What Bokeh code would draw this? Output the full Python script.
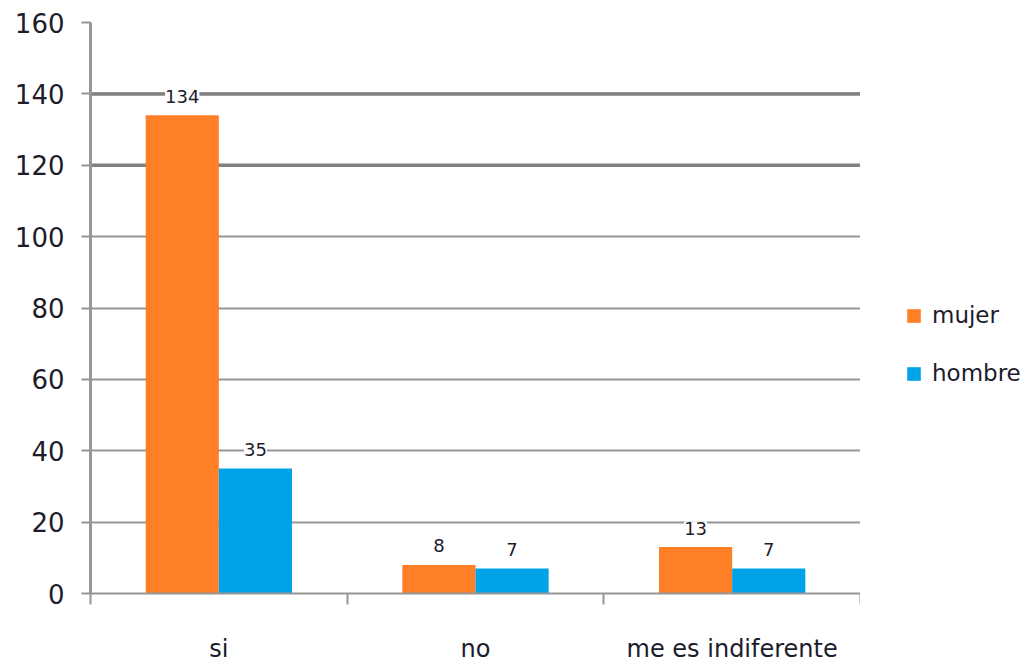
from bokeh.plotting import figure
from bokeh.layouts import row
from bokeh.models import (ColumnDataSource, FixedTicker, Range1d, LabelSet, Legend,
                          LegendItem, Span)
from bokeh.core.properties import value
from bokeh.embed import file_html
from bokeh.resources import INLINE

categories = ["si", "no", "me es indiferente"]
series_names = ["mujer", "hombre"]
mujer = [134, 8, 13]
hombre = [35, 7, 7]
y_ticks = [0, 20, 40, 60, 80, 100, 120, 140, 160]

ORANGE = "#FF7F27"
BLUE = "#00A2E8"
GRID = "#969696"
FONT = "DejaVu Sans"
TXT = "#1c1c2c"

n = len(categories)
centers = [i + 0.5 for i in range(n)]
bw = 0.285

p = figure(width=860, height=665, output_backend="svg", toolbar_location=None,
           x_range=Range1d(0, n), y_range=Range1d(0, 160),
           min_border_left=90, min_border_right=0, min_border_top=22,
           min_border_bottom=72)
p.outline_line_color = None
p.background_fill_color = "white"
p.border_fill_color = "white"

src_m = ColumnDataSource(dict(x=[c - bw / 2 for c in centers], top=mujer,
                              lab=[str(v) for v in mujer]))
src_h = ColumnDataSource(dict(x=[c + bw / 2 for c in centers], top=hombre,
                              lab=[str(v) for v in hombre]))

# grid
p.xgrid.grid_line_color = None
p.ygrid.ticker = FixedTicker(ticks=y_ticks)
p.ygrid.grid_line_color = GRID
p.ygrid.grid_line_width = 2
for v in [120, 140]:
    p.add_layout(Span(location=v, dimension="width", line_color="#808080",
                      line_width=3.5, level="underlay"))

p.vbar(x="x", top="top", width=bw, bottom=0, source=src_m,
       fill_color=ORANGE, line_color=None)
p.vbar(x="x", top="top", width=bw, bottom=0, source=src_h,
       fill_color=BLUE, line_color=None)

for s in (src_m, src_h):
    p.add_layout(LabelSet(x="x", y="top", text="lab", source=s, y_offset=19,
                          text_align="center", text_baseline="middle",
                          text_font=value(FONT), text_font_size=value("18px"),
                          text_color=TXT, background_fill_color="white"))

# y axis
ya = p.yaxis[0]
ya.ticker = FixedTicker(ticks=y_ticks)
ya.axis_line_color = GRID
ya.axis_line_width = 3
ya.major_tick_line_color = GRID
ya.major_tick_line_width = 2
ya.major_tick_out = 9
ya.major_tick_in = 0
ya.minor_tick_line_color = None
ya.major_label_text_font = FONT
ya.major_label_text_font_size = "26px"
ya.major_label_text_color = TXT
ya.major_label_standoff = 17

# x axis
xa = p.xaxis[0]
xa.ticker = FixedTicker(ticks=centers, minor_ticks=list(range(n + 1)))
xa.major_label_overrides = {c: cat for c, cat in zip(centers, categories)}
xa.axis_line_color = GRID
xa.axis_line_width = 2
xa.major_tick_line_color = None
xa.major_tick_out = 0
xa.major_tick_in = 0
xa.minor_tick_line_color = GRID
xa.minor_tick_line_width = 2
xa.minor_tick_out = 11
xa.minor_tick_in = 0
xa.major_label_text_font = FONT
xa.major_label_text_font_size = "24px"
xa.major_label_text_color = TXT
xa.major_label_standoff = 30

# legend panel
q = figure(width=172, height=665, output_backend="svg", toolbar_location=None,
           x_range=Range1d(0, 1), y_range=Range1d(0, 1),
           min_border=0)
q.axis.visible = False
q.grid.visible = False
q.outline_line_color = None
q.background_fill_color = "white"
q.border_fill_color = "white"
# off-screen proxies so the legend can draw its swatches
lm = q.vbar(x=[5], top=[5], width=0.1, fill_color=ORANGE, line_color=None)
lh = q.vbar(x=[5], top=[5], width=0.1, fill_color=BLUE, line_color=None)

legend = Legend(items=[LegendItem(label=series_names[0], renderers=[lm]),
                       LegendItem(label=series_names[1], renderers=[lh])],
                location=(45, 207), orientation="vertical",
                label_text_font=FONT, label_text_font_size="23px",
                label_text_color=TXT, glyph_width=17, glyph_height=17,
                spacing=32, padding=0, margin=0, border_line_color=None,
                background_fill_alpha=0, label_standoff=10)
q.add_layout(legend, "center")

layout = row(p, q)
open("out.html", "w").write(file_html(layout, INLINE))
